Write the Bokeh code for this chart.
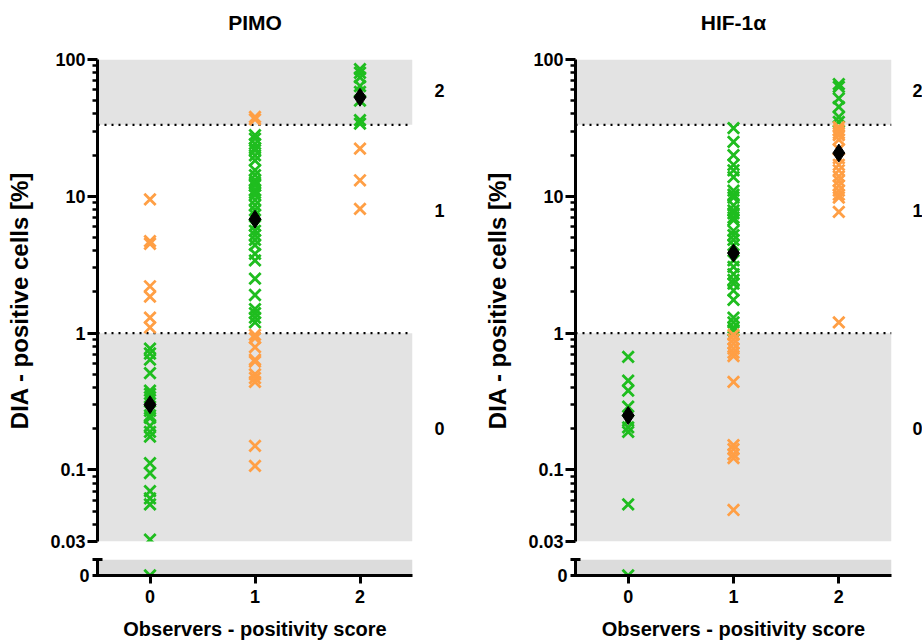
from bokeh.plotting import figure
from bokeh.layouts import row, column
from bokeh.models import (Range1d, FixedTicker, Span, BoxAnnotation, LogAxis, LinearAxis,
                          ColumnDataSource)
from bokeh.embed import file_html
from bokeh.resources import INLINE

# ---------------- data ----------------
scores = [0, 1, 2]
score_labels = ["0", "1", "2"]

pimo_green = [
    [0.77, 0.71, 0.64, 0.51, 0.38, 0.36, 0.34, 0.27, 0.25, 0.24, 0.21, 0.19, 0.175,
     0.112, 0.095, 0.07, 0.062, 0.056, 0.031, 0],
    [28, 26.4, 24.2, 22.5, 21.7, 19.9, 18.3, 15.5, 14.3, 13.1, 12.6, 12.0, 11.1, 10.6,
     10.2, 9.4, 8.6, 7.9, 7.3, 6.1, 5.6, 5.2, 4.8, 4.4, 3.8, 3.4, 2.5, 1.9, 1.5, 1.4,
     1.3, 1.2],
    [85, 80, 74, 64, 58, 50, 36, 34],
]
pimo_orange = [
    [9.5, 4.7, 4.5, 2.2, 1.85, 1.3, 1.1],
    [38, 36.5, 0.97, 0.92, 0.79, 0.64, 0.62, 0.5, 0.47, 0.44, 0.15, 0.107],
    [22.3, 13.1, 8.1],
]
pimo_median = [0.30, 6.8, 53]

hif_green = [
    [0.67, 0.45, 0.38, 0.29, 0.23, 0.205, 0.19, 0.056, 0],
    [31.5, 25, 20, 17, 15.5, 13.8, 11, 10.3, 9.8, 8.6, 7.9, 7.5, 7.0, 6.7, 5.6, 5.2,
     4.8, 4.4, 3.4, 3.05, 2.7, 2.45, 2.3, 2.05, 1.75, 1.3, 1.2, 1.1, 1.05],
    [66, 63, 52, 45, 38, 35],
]
hif_orange = [
    [],
    [0.97, 0.9, 0.84, 0.77, 0.72, 0.68, 0.44, 0.152, 0.142, 0.13, 0.122, 0.051],
    [32, 30.5, 29, 28, 26, 22, 19, 17, 15.5, 14, 13, 12, 11, 10.3, 9.8, 7.7, 1.2],
]
hif_median = [0.25, 3.85, 20.7]

y_major = [0.03, 0.1, 1, 10, 100]
y_major_labels = ["0.03", "0.1", "1", "10", "100"]
low_cut = 1
high_cut = 33.3
region_labels = ["0", "1", "2"]
region_label_pos = [0.2, 7.9, 59]

# ---------------- style ----------------
FONT = "Liberation Sans"
GREEN = "#1fbd1f"
ORANGE = "#ff9f45"
GRAY = "#e3e3e3"
GRAY2 = "#dcdcdc"
MARKER_SIZE = 16
MARKER_LW = 2.8

y_minor = [m * d for d in (0.01, 0.1, 1, 10) for m in range(2, 10) if 0.03 < m * d < 100]


def style_text(axis, size):
    axis.major_label_text_font = FONT
    axis.major_label_text_font_style = "bold"
    axis.major_label_text_font_size = size
    axis.major_label_text_color = "black"


def style_label(axis, text, size, standoff):
    axis.axis_label = text
    axis.axis_label_text_font = FONT
    axis.axis_label_text_font_style = "bold"
    axis.axis_label_text_font_size = size
    axis.axis_label_text_color = "black"
    axis.axis_label_standoff = standoff


def make_panel(title, green, orange, med, lb, fw, rb, region_standoff):
    xr = Range1d(-0.5, 2.5)
    top = figure(frame_width=fw, frame_height=482, x_range=xr, y_range=Range1d(0.03, 100),
                 y_axis_type="log", x_axis_location=None, output_backend="svg",
                 toolbar_location=None,
                 min_border_left=lb, min_border_right=rb, min_border_top=59, min_border_bottom=10)
    top.outline_line_color = None
    top.grid.visible = False

    # panel title, centred above the frame
    ta = LinearAxis(ticker=FixedTicker(ticks=[], minor_ticks=[]))
    ta.axis_line_color = None
    ta.major_tick_line_color = None
    ta.minor_tick_line_color = None
    ta.major_tick_out = 0
    ta.major_label_standoff = 0
    style_label(ta, title, "21px", 26)
    top.add_layout(ta, "above")

    ya = top.yaxis[0]
    ya.ticker = FixedTicker(ticks=y_major, minor_ticks=y_minor)
    ya.major_label_overrides = {v: s for v, s in zip(y_major, y_major_labels)}
    ya.axis_line_width = 3
    ya.major_tick_line_width = 3
    ya.minor_tick_line_width = 2.5
    ya.major_tick_out = 10
    ya.major_tick_in = 0
    ya.minor_tick_out = 5
    ya.minor_tick_in = 0
    ya.major_label_standoff = 2
    style_text(ya, "18px")
    style_label(ya, "DIA - positive cells [%]", "24px", 14)

    ra = LogAxis(ticker=FixedTicker(ticks=region_label_pos, minor_ticks=[]))
    ra.major_label_overrides = {v: s for v, s in zip(region_label_pos, region_labels)}
    ra.axis_line_color = None
    ra.major_tick_line_color = None
    ra.minor_tick_line_color = None
    ra.major_tick_out = 0
    ra.major_label_standoff = region_standoff
    style_text(ra, "18px")
    top.add_layout(ra, "right")

    top.add_layout(BoxAnnotation(bottom=0.03, top=low_cut, fill_color=GRAY, fill_alpha=1,
                                 line_color=None, level="underlay"))
    top.add_layout(BoxAnnotation(bottom=high_cut, top=100, fill_color=GRAY, fill_alpha=1,
                                 line_color=None, level="underlay"))
    for c in (low_cut, high_cut):
        top.add_layout(Span(location=c, dimension="width", line_color="black",
                            line_width=2.4, line_dash="2 5", level="underlay"))

    bot = figure(frame_width=fw, frame_height=16, x_range=xr, y_range=Range1d(0, 1),
                 output_backend="svg", toolbar_location=None,
                 min_border_left=lb, min_border_right=rb, min_border_top=8, min_border_bottom=63)
    bot.outline_line_color = None
    bot.grid.visible = False
    bot.add_layout(BoxAnnotation(bottom=0, top=1, fill_color=GRAY2, fill_alpha=1,
                                 line_color=None, level="underlay"))
    xa = bot.xaxis[0]
    xa.ticker = FixedTicker(ticks=scores)
    xa.major_label_overrides = {s: l for s, l in zip(scores, score_labels)}
    xa.axis_line_width = 3
    xa.major_tick_line_width = 3
    xa.major_tick_out = 8
    xa.major_tick_in = 0
    xa.minor_tick_line_color = None
    xa.major_label_standoff = 6
    style_text(xa, "18px")
    style_label(xa, "Observers - positivity score", "20px", 12)

    yb = bot.yaxis[0]
    yb.ticker = FixedTicker(ticks=[0, 1], minor_ticks=[])
    yb.major_label_overrides = {0: "0", 1: ""}
    yb.axis_line_width = 3
    yb.major_tick_line_width = 3
    yb.major_tick_in = 5
    yb.major_tick_out = 5
    yb.major_label_standoff = 3
    style_text(yb, "18px")

    for vals_by_score, color in ((green, GREEN), (orange, ORANGE)):
        xs_t, ys_t, xs_b = [], [], []
        for s, vals in zip(scores, vals_by_score):
            for v in vals:
                if v > 0:
                    xs_t.append(s)
                    ys_t.append(v)
                else:
                    xs_b.append(s)
        top.scatter(x="x", y="y", source=ColumnDataSource(dict(x=xs_t, y=ys_t)),
                    marker="x", size=MARKER_SIZE, line_color=color, line_width=MARKER_LW)
        if xs_b:
            bot.scatter(x="x", y="y", source=ColumnDataSource(dict(x=xs_b, y=[0] * len(xs_b))),
                        marker="x", size=MARKER_SIZE, line_color=color, line_width=MARKER_LW)
    top.scatter(x=scores, y=med, marker="diamond", size=18, fill_color="black",
                line_color="black")
    return column(top, bot)


left = make_panel("PIMO", pimo_green, pimo_orange, pimo_median, 97, 315, 40, 22)
right = make_panel("HIF-1\u03b1", hif_green, hif_orange, hif_median, 123, 316, 31, 21)
layout = row(left, right)

open("out.html", "w").write(file_html(layout, INLINE))
